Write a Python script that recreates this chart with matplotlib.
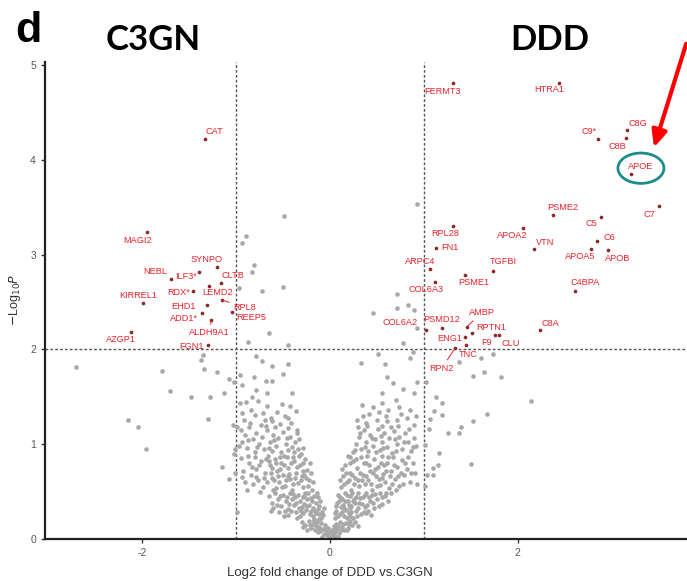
import matplotlib.pyplot as plt
from matplotlib.patches import Ellipse

plt.rcParams['font.family'] = ['Liberation Sans', 'DejaVu Sans']
plt.rcParams['axes.unicode_minus'] = False

# labelled proteins (log2 fold change, -log10 P)
genes = ["CAT", "MAGI2", "SYNPO", "NEBL", "ILF3*", "CLTB", "RDX*", "LEMD2", "KIRREL1",
         "EHD1", "RPL8", "REEP5", "ADD1*", "ALDH9A1", "AZGP1", "FGN1",
         "FERMT3", "HTRA1", "C9*", "C8G", "C8B", "APOE", "PSME2", "C7", "C5", "C6",
         "APOA2", "VTN", "APOA5", "APOB", "C4BPA", "C8A", "RPL28", "FN1", "ARPC4",
         "TGFBI", "PSME1", "COL6A3", "COL6A2", "PSMD12", "AMBP", "RPTN1", "ENG1",
         "F9", "CLU", "TNC", "RPN2"]
gene_fc = [-1.33, -1.95, -1.20, -1.69, -1.39, -1.16, -1.46, -1.29, -1.99,
           -1.31, -1.15, -1.04, -1.36, -1.26, -2.11, -1.30,
           1.31, 2.44, 2.85, 3.16, 3.15, 3.20, 2.37, 3.50, 2.89, 2.84,
           2.05, 2.17, 2.78, 2.96, 2.61, 2.24, 1.31, 1.13, 1.07,
           1.74, 1.44, 1.12, 1.02, 1.19, 1.46, 1.51, 1.44,
           1.76, 1.80, 1.45, 1.33]
gene_logp = [4.22, 3.24, 2.87, 2.74, 2.82, 2.70, 2.61, 2.67, 2.49,
             2.47, 2.52, 2.39, 2.38, 2.31, 2.18, 2.05,
             4.81, 4.81, 4.22, 4.31, 4.23, 3.85, 3.42, 3.51, 3.40, 3.14,
             3.28, 3.06, 3.06, 3.05, 2.62, 2.20, 3.30, 3.07, 2.85,
             2.83, 2.78, 2.71, 2.20, 2.22, 2.24, 2.17, 2.13,
             2.15, 2.15, 2.05, 2.01]

# non-significant proteins (grey)
background = [
    # scattered, outer
    (-2.70, 1.81), (-1.78, 1.77), (-1.34, 1.79), (-1.37, 1.89), (-1.35, 1.94), (-1.20, 1.76),
    (-1.07, 1.69), (-1.70, 1.56), (-1.48, 1.50), (-1.27, 1.50), (-1.13, 1.54), (-2.15, 1.26),
    (-2.04, 1.18), (-1.30, 1.27), (-1.96, 0.95), (-1.15, 0.76), (-1.07, 0.63),
    (-1.02, 1.66), (-1.03, 1.20), (-1.01, 0.95), (-1.02, 0.90), (-0.99, 0.28), (-1.01, 0.70),
    (-0.49, 3.41), (-0.89, 3.20), (-0.93, 3.12), (-0.81, 2.89), (-0.83, 2.82), (-0.50, 2.66),
    (-0.72, 2.62), (-0.97, 2.65), (-0.65, 2.17), (-0.87, 2.08), (-0.44, 2.05), (0.93, 3.53),
    (0.71, 2.58), (0.71, 2.44), (0.83, 2.47), (0.46, 2.38), (0.90, 2.41), (0.78, 2.07), (0.93, 2.23),
    (-0.78, 1.93), (-0.72, 1.88), (-0.62, 1.82), (-0.45, 1.85), (0.33, 1.86), (0.51, 1.95),
    (0.59, 1.85), (0.85, 1.91), (0.88, 1.97),
    (1.61, 1.91), (1.74, 1.95), (1.37, 1.87), (1.52, 1.72), (1.64, 1.76), (1.82, 1.71), (2.14, 1.45),
    (1.13, 1.50), (1.19, 1.43), (1.11, 1.35), (1.07, 1.27), (1.19, 1.31), (1.52, 1.24), (1.67, 1.32),
    (1.05, 1.16), (1.26, 1.12), (1.37, 1.12), (1.40, 1.18), (1.16, 0.91), (1.15, 0.78), (1.10, 0.75),
    (1.50, 0.79), (1.03, 0.68), (1.10, 0.68), (1.01, 0.56), (1.02, 1.66), (1.01, 0.99),
    # 1.5 - 1.8
    (-0.96, 1.73), (-0.81, 1.71), (-0.68, 1.67), (-0.61, 1.67), (-0.50, 1.74), (-0.93, 1.62),
    (-0.78, 1.57), (-0.67, 1.54), (-0.40, 1.54), (-0.83, 1.50),
    (0.61, 1.71), (0.67, 1.65), (0.78, 1.58), (0.55, 1.54), (0.93, 1.66), (0.90, 1.54), (0.70, 1.47),
    # 1.2 - 1.5
    (-0.96, 1.43), (-0.89, 1.44), (-0.76, 1.45), (-0.67, 1.40), (-0.51, 1.42), (-0.42, 1.40),
    (-0.93, 1.33), (-0.80, 1.31), (-0.69, 1.26), (-0.61, 1.24), (-0.44, 1.28), (-0.35, 1.15),
    (-0.85, 1.22), (-0.99, 1.18),
    (0.34, 1.41), (0.46, 1.39), (0.56, 1.43), (0.62, 1.36), (0.74, 1.39), (0.85, 1.36), (0.29, 1.26),
    (0.39, 1.22), (0.50, 1.26), (0.61, 1.24), (0.71, 1.26), (0.82, 1.28), (0.90, 1.20),
    # 0.9 - 1.5
    (-0.95, 1.15), (-0.90, 1.10), (-0.86, 1.18), (-0.82, 1.05), (-0.78, 1.12), (-0.75, 1.00),
    (-0.72, 1.08), (-0.70, 0.95), (-0.67, 1.15), (-0.64, 1.02), (-0.62, 0.93), (-0.60, 1.10),
    (-0.57, 0.98), (-0.55, 1.06), (-0.52, 0.92), (-0.50, 1.13), (-0.47, 1.00), (-0.45, 0.94),
    (-0.42, 1.08), (-0.40, 0.97), (-0.37, 1.02), (-0.34, 0.95), (-0.31, 0.90), (-0.88, 0.96),
    (-0.93, 1.02), (-0.80, 0.92), (-0.68, 1.19), (-0.58, 1.18), (-0.44, 1.17), (-0.35, 1.12),
    (-0.97, 0.98), (-0.91, 1.26), (-0.87, 1.04), (-0.84, 1.36), (-0.77, 0.97), (-0.73, 1.20),
    (-0.71, 1.33), (-0.65, 0.96), (-0.63, 1.28), (-0.59, 1.04), (-0.56, 1.34), (-0.53, 1.21),
    (-0.48, 1.30), (-0.46, 1.07), (-0.41, 1.22), (-0.38, 0.92), (-0.36, 1.35), (-0.33, 1.05),
    (-0.29, 0.96),
    (0.25, 0.92), (0.28, 1.00), (0.31, 1.08), (0.33, 0.95), (0.36, 1.15), (0.38, 1.02),
    (0.41, 0.93), (0.43, 1.10), (0.46, 0.98), (0.48, 1.05), (0.51, 1.16), (0.53, 0.94),
    (0.56, 1.02), (0.58, 1.12), (0.61, 0.97), (0.63, 1.06), (0.66, 0.91), (0.68, 1.14),
    (0.71, 1.00), (0.74, 1.08), (0.77, 0.95), (0.80, 1.12), (0.83, 1.02), (0.86, 0.93),
    (0.90, 1.07), (0.40, 1.19), (0.55, 1.19), (0.70, 0.93), (0.30, 1.18), (0.92, 0.98),
    (0.27, 0.94), (0.32, 1.12), (0.35, 1.30), (0.37, 0.97), (0.42, 1.32), (0.45, 1.07),
    (0.49, 0.92), (0.52, 1.34), (0.54, 1.09), (0.57, 0.96), (0.60, 1.30), (0.65, 1.18),
    (0.69, 1.05), (0.73, 1.19), (0.76, 1.32), (0.79, 1.02), (0.84, 1.16), (0.88, 0.97),
    (0.92, 1.30),
    # 0.5 - 0.9
    (-0.95, 0.85), (-0.92, 0.72), (-0.90, 0.60), (-0.86, 0.80), (-0.84, 0.68), (-0.80, 0.86),
    (-0.78, 0.74), (-0.76, 0.62), (-0.73, 0.82), (-0.71, 0.55), (-0.69, 0.70), (-0.66, 0.88),
    (-0.64, 0.78), (-0.62, 0.64), (-0.60, 0.52), (-0.58, 0.84), (-0.56, 0.72), (-0.54, 0.60),
    (-0.52, 0.80), (-0.50, 0.68), (-0.48, 0.56), (-0.46, 0.86), (-0.44, 0.75), (-0.42, 0.63),
    (-0.40, 0.52), (-0.38, 0.82), (-0.36, 0.70), (-0.34, 0.59), (-0.32, 0.78), (-0.30, 0.66),
    (-0.28, 0.55), (-0.26, 0.84), (-0.24, 0.73), (-0.22, 0.62), (-0.21, 0.80), (-0.88, 0.52),
    (-0.82, 0.58), (-0.74, 0.50), (-0.67, 0.60), (-0.61, 0.75), (-0.55, 0.66), (-0.49, 0.88),
    (-0.43, 0.69), (-0.39, 0.58), (-0.33, 0.87), (-0.29, 0.72), (-0.25, 0.64), (-0.47, 0.62),
    (-0.57, 0.54), (-0.65, 0.82),
    (-0.93, 0.65), (-0.87, 0.88), (-0.83, 0.76), (-0.79, 0.65), (-0.75, 0.78), (-0.70, 0.64),
    (-0.68, 0.84), (-0.63, 0.70), (-0.59, 0.62), (-0.57, 0.80), (-0.53, 0.74), (-0.51, 0.55),
    (-0.49, 0.78), (-0.45, 0.66), (-0.41, 0.80), (-0.37, 0.64), (-0.35, 0.76), (-0.31, 0.62),
    (-0.27, 0.68), (-0.23, 0.56), (-0.20, 0.70), (-0.18, 0.60), (-0.19, 0.52), (-0.28, 0.80),
    (-0.39, 0.86), (-0.53, 0.86),
    (0.12, 0.55), (0.14, 0.66), (0.16, 0.78), (0.18, 0.60), (0.19, 0.88), (0.21, 0.70),
    (0.23, 0.52), (0.25, 0.82), (0.27, 0.64), (0.29, 0.75), (0.31, 0.56), (0.33, 0.86),
    (0.35, 0.68), (0.37, 0.58), (0.39, 0.80), (0.41, 0.62), (0.43, 0.72), (0.45, 0.52),
    (0.47, 0.84), (0.49, 0.66), (0.51, 0.76), (0.53, 0.57), (0.55, 0.88), (0.57, 0.69),
    (0.59, 0.60), (0.61, 0.80), (0.63, 0.54), (0.65, 0.72), (0.67, 0.86), (0.69, 0.63),
    (0.72, 0.76), (0.74, 0.56), (0.77, 0.83), (0.79, 0.67), (0.82, 0.74), (0.85, 0.60),
    (0.88, 0.80), (0.91, 0.70), (0.93, 0.58), (0.22, 0.80), (0.26, 0.58), (0.34, 0.62),
    (0.40, 0.88), (0.46, 0.70), (0.52, 0.63), (0.58, 0.78), (0.64, 0.66), (0.70, 0.52),
    (0.76, 0.70), (0.83, 0.86),
    (0.11, 0.62), (0.13, 0.74), (0.15, 0.58), (0.17, 0.70), (0.20, 0.62), (0.21, 0.86),
    (0.24, 0.68), (0.28, 0.84), (0.30, 0.62), (0.32, 0.70), (0.36, 0.80), (0.38, 0.66),
    (0.42, 0.78), (0.44, 0.58), (0.48, 0.74), (0.50, 0.56), (0.54, 0.80), (0.56, 0.64),
    (0.60, 0.72), (0.62, 0.86), (0.66, 0.58), (0.68, 0.78), (0.73, 0.66), (0.78, 0.58),
    (0.80, 0.80), (0.86, 0.70),
    # 0.2 - 0.5
    (-0.65, 0.45), (-0.62, 0.38), (-0.58, 0.48), (-0.55, 0.42), (-0.52, 0.35), (-0.50, 0.46),
    (-0.47, 0.40), (-0.45, 0.32), (-0.42, 0.48), (-0.40, 0.42), (-0.38, 0.36), (-0.36, 0.28),
    (-0.34, 0.46), (-0.32, 0.40), (-0.30, 0.34), (-0.28, 0.27), (-0.26, 0.48), (-0.24, 0.42),
    (-0.22, 0.36), (-0.20, 0.30), (-0.18, 0.24), (-0.17, 0.45), (-0.15, 0.38), (-0.13, 0.32),
    (-0.12, 0.26), (-0.10, 0.40), (-0.09, 0.22), (-0.44, 0.25), (-0.48, 0.30), (-0.54, 0.28),
    (-0.60, 0.33), (-0.35, 0.22), (-0.29, 0.44), (-0.23, 0.49), (-0.19, 0.40), (-0.14, 0.48),
    (-0.33, 0.33), (-0.27, 0.37), (-0.21, 0.26), (-0.16, 0.30), (-0.41, 0.30), (-0.37, 0.44),
    (-0.25, 0.31), (-0.11, 0.35), (-0.08, 0.28),
    (-0.63, 0.30), (-0.56, 0.36), (-0.49, 0.24), (-0.43, 0.37), (-0.39, 0.47), (-0.31, 0.29),
    (-0.27, 0.45), (-0.20, 0.43), (-0.18, 0.33), (-0.15, 0.27), (-0.13, 0.44), (-0.11, 0.21),
    (-0.07, 0.25), (-0.06, 0.33), (-0.32, 0.24), (-0.46, 0.44), (-0.53, 0.45), (-0.36, 0.38),
    (-0.24, 0.35), (-0.17, 0.21),
    (0.06, 0.22), (0.07, 0.30), (0.08, 0.38), (0.09, 0.46), (0.11, 0.26), (0.12, 0.34),
    (0.13, 0.42), (0.15, 0.24), (0.16, 0.48), (0.17, 0.31), (0.19, 0.40), (0.20, 0.27),
    (0.22, 0.45), (0.23, 0.35), (0.25, 0.22), (0.26, 0.42), (0.28, 0.30), (0.30, 0.48),
    (0.31, 0.38), (0.33, 0.26), (0.35, 0.44), (0.37, 0.34), (0.39, 0.48), (0.41, 0.29),
    (0.43, 0.40), (0.45, 0.46), (0.47, 0.33), (0.50, 0.42), (0.53, 0.48), (0.56, 0.37),
    (0.59, 0.45), (0.62, 0.40), (0.65, 0.48), (0.14, 0.36), (0.18, 0.22), (0.21, 0.33),
    (0.24, 0.48), (0.27, 0.38), (0.29, 0.24), (0.32, 0.43), (0.36, 0.28), (0.40, 0.36),
    (0.44, 0.25), (0.48, 0.47), (0.10, 0.40),
    (0.05, 0.27), (0.07, 0.35), (0.09, 0.24), (0.11, 0.44), (0.13, 0.28), (0.16, 0.40),
    (0.18, 0.46), (0.20, 0.36), (0.23, 0.28), (0.25, 0.40), (0.28, 0.44), (0.30, 0.33),
    (0.34, 0.37), (0.37, 0.46), (0.39, 0.27), (0.42, 0.44), (0.46, 0.38), (0.52, 0.35),
    (0.55, 0.44), (0.60, 0.48), (0.15, 0.33), (0.21, 0.24),
    # 0 - 0.2
    (-0.30, 0.18), (-0.26, 0.15), (-0.22, 0.19), (-0.20, 0.12), (-0.18, 0.16), (-0.16, 0.10),
    (-0.14, 0.18), (-0.12, 0.13), (-0.10, 0.08), (-0.09, 0.17), (-0.07, 0.11), (-0.06, 0.05),
    (-0.05, 0.15), (-0.04, 0.09), (-0.03, 0.04), (-0.02, 0.12), (-0.01, 0.02), (0.00, 0.07),
    (0.01, 0.01), (0.02, 0.10), (0.03, 0.05), (0.04, 0.14), (0.05, 0.08), (0.06, 0.03),
    (0.07, 0.16), (0.08, 0.11), (0.10, 0.06), (0.11, 0.18), (0.13, 0.13), (0.15, 0.09),
    (0.17, 0.17), (0.19, 0.12), (0.22, 0.19), (0.24, 0.15), (0.27, 0.18), (-0.24, 0.10),
    (-0.28, 0.13), (0.30, 0.14), (-0.08, 0.02), (0.09, 0.02),
    (-0.21, 0.15), (-0.15, 0.14), (-0.11, 0.11), (-0.05, 0.11), (-0.02, 0.06), (0.02, 0.03),
    (0.04, 0.06), (0.06, 0.12), (0.09, 0.14), (0.12, 0.09), (0.14, 0.16), (0.18, 0.10),
    (0.20, 0.16), (-0.17, 0.19), (-0.13, 0.07),
]
bg_x = [p[0] for p in background]
bg_y = [p[1] for p in background]

fc_cut = [-1, 1]
p_cut = 2

# label offsets in pixels (dx, dy) relative to the point
offsets = {
    "CAT": (10, 7), "MAGI2": (-9, -9), "SYNPO": (-10, 7), "NEBL": (-16, 8), "ILF3*": (-13, -5),
    "CLTB": (12, 7), "RDX*": (-14, -1), "LEMD2": (9, -7), "KIRREL1": (-5, 7), "EHD1": (-23, -2),
    "RPL8": (23, -7), "REEP5": (19, -5), "ADD1*": (-18, -5), "ALDH9A1": (-2, -13),
    "AZGP1": (-10, -7), "FGN1": (-16, -2),
    "FERMT3": (-10, -9), "HTRA1": (-10, -7), "C9*": (-9, 7), "C8G": (11, 7), "C8B": (-9, -9),
    "APOE": (10, 7), "PSME2": (10, 7), "C7": (-9, -8), "C5": (-10, -7), "C6": (13, 4),
    "APOA2": (-10, -8), "VTN": (11, 6), "APOA5": (-11, -8), "APOB": (10, -9), "C4BPA": (10, 8),
    "C8A": (10, 7), "RPL28": (-8, -7), "FN1": (14, 0), "ARPC4": (-10, 7), "TGFBI": (10, 9),
    "PSME1": (9, -7), "COL6A3": (-9, -7), "COL6A2": (-26, 8), "PSMD12": (0, 9), "AMBP": (15, 14),
    "RPTN1": (20, 6), "ENG1": (-15, -1), "F9": (-9, -7), "CLU": (12, -8), "TNC": (2, -10),
    "RPN2": (-13, -20),
}
leaders = {"RPL8", "ALDH9A1", "AMBP", "RPN2", "TNC"}

red = "#e8222b"

fig = plt.figure(figsize=(6.87, 5.81), dpi=100)
ax = fig.add_axes([45 / 687, 42 / 581, 642 / 687, 477 / 581])

ax.scatter(bg_x, bg_y, s=11, color="#a8a8a8", linewidths=0, zorder=2)
ax.scatter(gene_fc, gene_logp, s=7, color="#8c2a2a", linewidths=0, zorder=3)

for c in fc_cut:
    ax.axvline(c, color="#555555", lw=1, ls=(0, (2, 1.5)), zorder=1)
ax.axhline(p_cut, color="#555555", lw=1, ls=(0, (2, 1.5)), zorder=1)

for g, x, y in zip(genes, gene_fc, gene_logp):
    dx, dy = offsets[g]
    props = dict(arrowstyle="-", color=red, lw=0.7, shrinkA=1, shrinkB=1) if g in leaders else None
    ax.annotate(g, (x, y), xytext=(dx, dy), textcoords="offset pixels", ha="center", va="center",
                fontsize=6.6, color=red, arrowprops=props, zorder=4)

# highlight APOE
i = genes.index("APOE")
ax.add_patch(Ellipse((gene_fc[i] + 0.11, gene_logp[i] + 0.06), 0.49, 0.32, fill=False,
                     edgecolor="#1f8c8c", lw=2, zorder=5))
ax.annotate("", xy=(gene_fc[i] + 0.24, gene_logp[i] + 0.25), xytext=(gene_fc[i] + 0.60, gene_logp[i] + 1.40),
            arrowprops=dict(arrowstyle="-|>,head_width=0.45,head_length=1.0", color="#ff0000", lw=3),
            annotation_clip=False, zorder=6)

ax.set_xlim(-3.03, 3.80)
ax.set_ylim(0, 5.03)
ax.set_xticks([-2, 0, 2])
ax.set_yticks([0, 1, 2, 3, 4, 5])
ax.tick_params(labelsize=7.5, labelcolor="#555555", length=3, width=1, color="#333333")
for s in ["top", "right"]:
    ax.spines[s].set_visible(False)
for s in ["left", "bottom"]:
    ax.spines[s].set_linewidth(1.6)
    ax.spines[s].set_color("#222222")

fig.text(330 / 687, 1 - 573 / 581, "Log2 fold change of DDD vs.C3GN", ha="center", va="center",
         fontsize=9.5, color="#333333")
fig.text(15 / 687, 1 - 300 / 581, r"$-$Log$_{10}$$\it{P}$", rotation=90, ha="center", va="center",
         fontsize=9, color="#333333")

fig.text(28 / 687, 1 - 31 / 581, "d", ha="center", va="center", fontsize=31, fontweight="bold")
fig.text(153 / 687, 1 - 40 / 581, "C3GN", ha="center", va="center", fontsize=25, fontweight="bold",
         family="Lato")
fig.text(550 / 687, 1 - 40 / 581, "DDD", ha="center", va="center", fontsize=25, fontweight="bold",
         family="Lato")

plt.savefig("out.png")
